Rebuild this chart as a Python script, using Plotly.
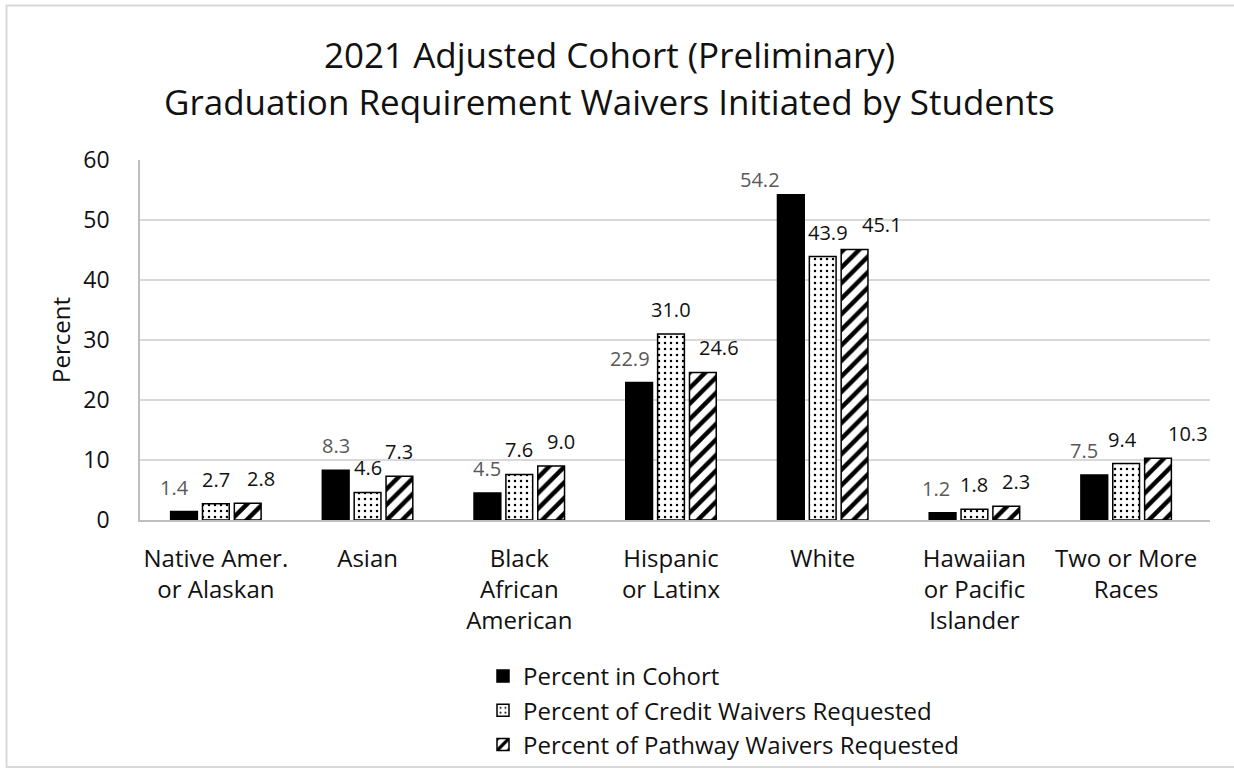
import plotly.graph_objects as go

categories = ["Native Amer.<br>or Alaskan", "Asian", "Black<br>African<br>American",
              "Hispanic<br>or Latinx", "White", "Hawaiian<br>or Pacific<br>Islander",
              "Two or More<br>Races"]
cohort = [1.4, 8.3, 4.5, 22.9, 54.2, 1.2, 7.5]
credit = [2.7, 4.6, 7.6, 31.0, 43.9, 1.8, 9.4]
pathway = [2.8, 7.3, 9.0, 24.6, 45.1, 2.3, 10.3]
series_names = ["Percent in Cohort", "Percent of Credit Waivers Requested",
                "Percent of Pathway Waivers Requested"]
title_lines = ["2021 Adjusted Cohort (Preliminary)",
               "Graduation Requirement Waivers Initiated by Students"]
y_title = "Percent"
y_ticks = [0, 10, 20, 30, 40, 50, 60]

# label placement nudges (pixels), mimicking the original label layout
label_dx = [
    [-10, 0, 0, -9, -31, -7, -10],
    [0, 0, 0, 0, 5, 0, -4],
    [13, 0, 10, 16, 27, 10, 30],
]
label_dy = [
    [0, 0, 0, 0, -9, 0, 0],
    [0, 0, 0, 0, 0, 0, 0],
    [0, 0, 0, 0, 0, 0, 0],
]
label_colors = ["#595959", "#111111", "#111111"]

FONT = "Open Sans"
L, R, T, B = 140, 24, 160, 258
W, H = 1234, 778
LABEL_SIZE = 20
BARGAP = 0.37

series = [cohort, credit, pathway]
markers = [
    dict(color="black", line=dict(color="black", width=1.5)),
    dict(color="white", line=dict(color="black", width=1.5),
         pattern=dict(shape=".", fgcolor="black", bgcolor="white",
                      size=6, solidity=0.14, fillmode="replace")),
    dict(color="white", line=dict(color="black", width=1.5),
         pattern=dict(shape="/", fgcolor="black", bgcolor="white",
                      size=11, solidity=0.4, fillmode="replace")),
]

fig = go.Figure()
for name, vals, mk in zip(series_names, series, markers):
    fig.add_trace(go.Bar(x=categories, y=vals, name=name, marker=mk))

pw = W - L - R
ph = H - T - B

def px_to_paper_x(px):
    return (px - L) / pw

def px_to_paper_y(py):
    return (H - B - py) / ph

annotations = []
slot = (1 - BARGAP) / 3
for k, vals in enumerate(series):
    for i, v in enumerate(vals):
        annotations.append(dict(
            text=f"{v:.1f}", xref="x", yref="y",
            x=i + (k - 1) * slot, y=v, xanchor="center", yanchor="bottom",
            xshift=label_dx[k][i], yshift=9 + label_dy[k][i], showarrow=False,
            font=dict(family=FONT, size=LABEL_SIZE, color=label_colors[k])))

for line, yc in zip(title_lines, [55, 102]):
    annotations.append(dict(
        text=line, xref="paper", yref="paper",
        x=px_to_paper_x(609), y=px_to_paper_y(yc),
        xanchor="center", yanchor="middle", showarrow=False,
        font=dict(family=FONT, size=35, color="#111111")))

annotations.append(dict(
    text=y_title, xref="paper", yref="paper",
    x=px_to_paper_x(60), y=0.5, textangle=-90,
    xanchor="center", yanchor="middle", showarrow=False,
    font=dict(family=FONT, size=24, color="#111111")))

fig.update_layout(
    width=W, height=H,
    margin=dict(l=L, r=R, t=T, b=B, autoexpand=False),
    paper_bgcolor="white", plot_bgcolor="white",
    barmode="group", bargap=BARGAP, bargroupgap=0.16,
    font=dict(family=FONT, color="#111111"),
    showlegend=True,
    legend=dict(xref="container", yref="container",
                x=483 / W, y=1 - 654 / H,
                xanchor="left", yanchor="top", orientation="v",
                font=dict(family=FONT, size=24, color="#111111"),
                tracegroupgap=0, itemwidth=30, bgcolor="rgba(0,0,0,0)"),
    annotations=annotations,
    shapes=[dict(type="rect", xref="paper", yref="paper",
                 x0=px_to_paper_x(6.5), x1=px_to_paper_x(1270),
                 y0=px_to_paper_y(767), y1=px_to_paper_y(5.5),
                 line=dict(color="#d9d9d9", width=2), fillcolor="rgba(0,0,0,0)",
                 layer="below")],
    xaxis=dict(showline=True, linecolor="#bfbfbf", linewidth=1.5,
               ticks="", showgrid=False, automargin=False,
               tickfont=dict(family=FONT, size=24, color="#111111"),
               ticklabelstandoff=16),
    yaxis=dict(range=[0, 60], tickvals=y_ticks, showline=True, linecolor="#bfbfbf",
               linewidth=1.5, gridcolor="#d9d9d9", gridwidth=1.5, ticks="",
               automargin=False,
               tickfont=dict(family=FONT, size=23, color="#111111"),
               ticklabelstandoff=24, zeroline=False),
)

fig.write_html("out.html")
